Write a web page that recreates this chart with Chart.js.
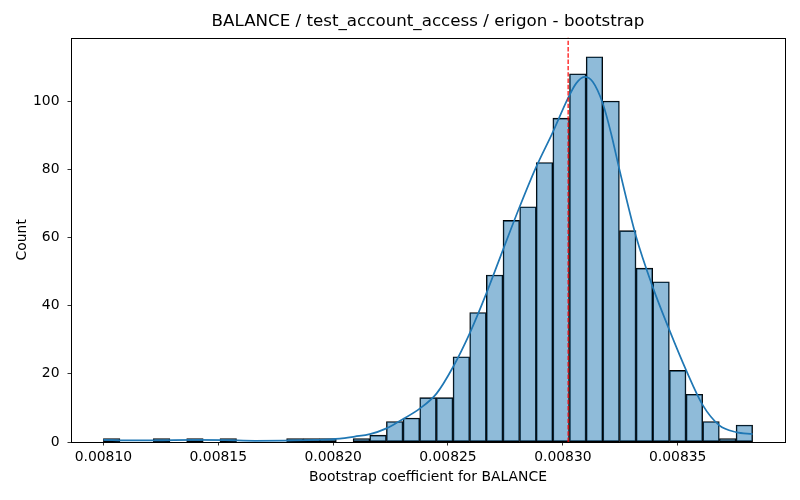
<!DOCTYPE html>
<html>
<head>
<meta charset="utf-8">
<script src="https://cdn.jsdelivr.net/npm/chart.js@4"></script>
<style>
  html, body { margin: 0; padding: 0; background: #fff; }
</style>
</head>
<body>
<canvas id="histChart" width="800" height="500"></canvas>
<script>
// histogram bins (edges, 39 bins) and counts
const binEdges = [
  0.0081000, 0.0081072, 0.0081145, 0.0081217, 0.0081290, 0.0081362, 0.0081435, 0.0081507,
  0.0081580, 0.0081652, 0.0081725, 0.0081797, 0.0081870, 0.0081942, 0.0082014, 0.0082087,
  0.0082159, 0.0082232, 0.0082304, 0.0082377, 0.0082449, 0.0082522, 0.0082594, 0.0082667,
  0.0082739, 0.0082812, 0.0082884, 0.0082956, 0.0083029, 0.0083101, 0.0083174, 0.0083246,
  0.0083319, 0.0083391, 0.0083464, 0.0083536, 0.0083609, 0.0083681, 0.0083754, 0.0083826
];
const binCounts = [
  1, 0, 0, 1, 0, 1, 0, 1, 0, 0, 0, 1, 1, 1, 0, 1,
  2, 6, 7, 13, 13, 25, 38, 49, 65, 69, 82, 95, 108, 113, 100, 62,
  51, 47, 21, 14, 6, 1, 5
];

// kde curve
const kdeX = [
  0.0081000, 0.0081116, 0.0081247, 0.0081399, 0.0081529, 0.0081660, 0.0081790, 0.0081920,
  0.0082029, 0.0082094, 0.0082160, 0.0082232, 0.0082290, 0.0082377, 0.0082450, 0.0082522,
  0.0082594, 0.0082667, 0.0082739, 0.0082812, 0.0082884, 0.0082957, 0.0083022, 0.0083058,
  0.0083094, 0.0083130, 0.0083174, 0.0083210, 0.0083247, 0.0083319, 0.0083391, 0.0083464,
  0.0083537, 0.0083609, 0.0083681, 0.0083754, 0.0083826
];
const kdeY = [
  0.6, 0.45, 0.5, 0.6, 0.55, 0.35, 0.4, 0.6,
  1.0, 1.6, 2.3, 4.0, 6.2, 9.8, 14.2, 22.0,
  31.8, 43.6, 56.3, 69.0, 80.7, 91.0, 100.8, 105.2,
  107.1, 105.7, 99.3, 90.5, 79.7, 60.2, 45.5, 32.8,
  21.0, 10.8, 4.9, 2.9, 2.3
];

const meanValue = 0.0083023;

const xTickValues = [0.00810, 0.00815, 0.00820, 0.00825, 0.00830, 0.00835];
const yTickValues = [0, 20, 40, 60, 80, 100];

const xMin = 0.0080859, xMax = 0.0083967;
const yMax = 118.65;

const font = "'DejaVu Sans', 'Liberation Sans', sans-serif";

// bar centres from the edges
const barPoints = binCounts.map((c, i) => ({ x: (binEdges[i] + binEdges[i + 1]) / 2, y: c }));
const kdePoints = kdeX.map((x, i) => ({ x: x, y: kdeY[i] }));

// matplotlib-style box around the axes
const framePlugin = {
  id: 'frame',
  afterDatasetsDraw(chart) {
    const a = chart.chartArea, ctx = chart.ctx;
    ctx.save();
    ctx.strokeStyle = '#000';
    ctx.lineWidth = 1;
    ctx.strokeRect(Math.round(a.left) + 0.5, Math.round(a.top) + 0.5,
                   Math.round(a.right - a.left), Math.round(a.bottom - a.top));
    ctx.restore();
  }
};

new Chart(document.getElementById('histChart'), {
  data: {
    datasets: [
      {
        type: 'line',
        data: [{ x: meanValue, y: 0 }, { x: meanValue, y: yMax }],
        borderColor: '#ff0000',
        borderWidth: 1.2,
        borderDash: [4.4, 1.9],
        pointRadius: 0,
        order: 1
      },
      {
        type: 'line',
        data: kdePoints,
        borderColor: '#1f77b4',
        borderWidth: 1.7,
        pointRadius: 0,
        cubicInterpolationMode: 'monotone',
        order: 2
      },
      {
        type: 'bar',
        data: barPoints,
        backgroundColor: 'rgba(31, 119, 180, 0.5)',
        borderColor: '#000',
        borderWidth: 0.9,
        borderSkipped: false,
        barPercentage: 1,
        categoryPercentage: 1,
        order: 3
      }
    ]
  },
  options: {
    responsive: false,
    animation: false,
    layout: { padding: { left: 0, right: 15, top: 0, bottom: 0 } },
    plugins: {
      legend: { display: false },
      tooltip: { enabled: false },
      title: {
        display: true,
        fullSize: false,
        text: 'BALANCE / test_account_access / erigon - bootstrap',
        color: '#000',
        font: { family: font, size: 16.7, weight: 'normal' },
        padding: { top: 12, bottom: 5.5 }
      }
    },
    scales: {
      x: {
        type: 'linear',
        offset: false,
        min: xMin,
        max: xMax,
        afterFit(scale) { scale.height = 58; },
        afterBuildTicks(scale) { scale.ticks = xTickValues.map(v => ({ value: v })); },
        grid: { display: true, offset: false, drawOnChartArea: false, drawTicks: true, tickLength: 3.5, color: '#000', lineWidth: 0.8 },
        border: { display: false },
        ticks: {
          color: '#000',
          font: { family: font, size: 13.9 },
          padding: 4,
          maxRotation: 0,
          autoSkip: false,
          callback: v => v.toFixed(5)
        },
        title: {
          display: true,
          text: 'Bootstrap coefficient for BALANCE',
          color: '#000',
          font: { family: font, size: 13.9 },
          padding: { top: 0, bottom: 14.7 }
        }
      },
      y: {
        type: 'linear',
        min: 0,
        max: yMax,
        afterFit(scale) { scale.width = 71; },
        afterBuildTicks(scale) { scale.ticks = yTickValues.map(v => ({ value: v })); },
        grid: { display: true, drawOnChartArea: false, drawTicks: true, tickLength: 3.5, color: '#000', lineWidth: 0.8 },
        border: { display: false },
        ticks: {
          color: '#000',
          font: { family: font, size: 13.9 },
          padding: 8,
          autoSkip: false,
          callback: v => String(v)
        },
        title: {
          display: true,
          text: 'Count',
          color: '#000',
          font: { family: font, size: 13.9 },
          padding: { top: 13.7, bottom: 0 }
        }
      }
    }
  },
  plugins: [framePlugin]
});
</script>
</body>
</html>
